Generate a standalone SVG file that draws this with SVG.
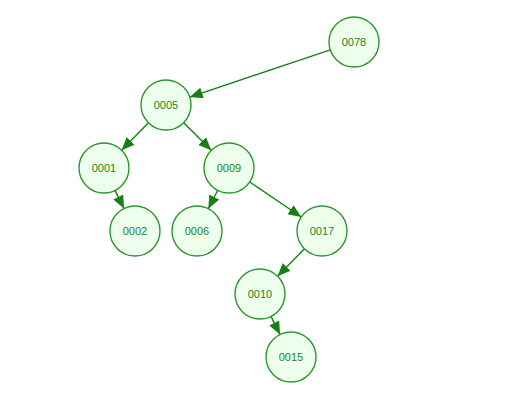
<svg xmlns="http://www.w3.org/2000/svg" width="520" height="412" viewBox="0 0 520 412">
<style>
.node circle{fill:#eeffee;stroke:#2e962e;stroke-width:1.4}
.node text{font-family:"Liberation Sans",Arial,sans-serif;font-size:11px;fill:#1a861a;text-anchor:middle;dominant-baseline:central}
.edges path{stroke:#168016;stroke-width:1.4;fill:none;marker-end:url(#arr)}
</style>
<defs>
<marker id="arr" markerUnits="userSpaceOnUse" markerWidth="14" markerHeight="12" refX="13" refY="5.5" orient="auto">
<path d="M0,0 L13,5.5 L0,11 z" fill="#168016"/>
</marker>
</defs>
<rect width="520" height="412" fill="#ffffff"/>
<g class="edges">
<path d="M330.3,49.9 L189.7,97.1"/>
<path d="M148.5,122.8 L121.5,150.2"/>
<path d="M183.7,122.7 L211.3,150.3"/>
<path d="M115.0,190.4 L124.0,208.6"/>
<path d="M217.7,190.3 L208.3,208.7"/>
<path d="M249.7,182.0 L301.3,217.0"/>
<path d="M304.5,248.8 L277.5,276.2"/>
<path d="M271.0,316.4 L280.0,334.6"/>
</g>
<g id="n0078" class="node"><circle cx="354" cy="42" r="25"/><text x="354" y="42">0078</text></g>
<g id="n0005" class="node"><circle cx="166" cy="105" r="25"/><text x="166" y="105">0005</text></g>
<g id="n0001" class="node"><circle cx="104" cy="168" r="25"/><text x="104" y="168">0001</text></g>
<g id="n0009" class="node"><circle cx="229" cy="168" r="25"/><text x="229" y="168">0009</text></g>
<g id="n0002" class="node"><circle cx="135" cy="231" r="25"/><text x="135" y="231">0002</text></g>
<g id="n0006" class="node"><circle cx="197" cy="231" r="25"/><text x="197" y="231">0006</text></g>
<g id="n0017" class="node"><circle cx="322" cy="231" r="25"/><text x="322" y="231">0017</text></g>
<g id="n0010" class="node"><circle cx="260" cy="294" r="25"/><text x="260" y="294">0010</text></g>
<g id="n0015" class="node"><circle cx="291" cy="357" r="25"/><text x="291" y="357">0015</text></g>
</svg>
